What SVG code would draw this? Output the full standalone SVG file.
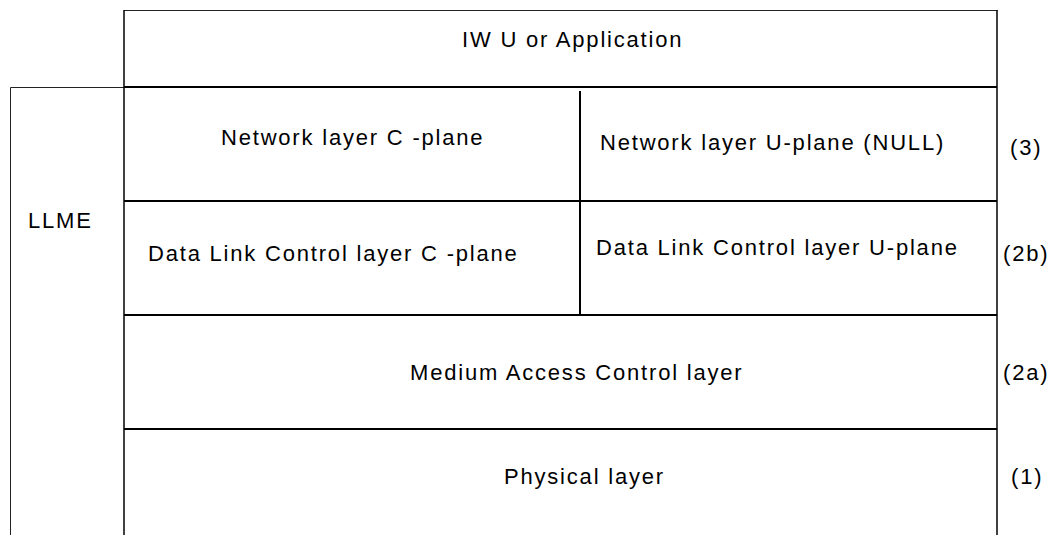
<svg xmlns="http://www.w3.org/2000/svg" width="1060" height="535" viewBox="0 0 1060 535">
<style>
  text { font-family: "Liberation Sans", Arial, sans-serif; font-size: 22px; letter-spacing: 1.8px; fill: #000; }
  .h { stroke: #000; stroke-width: 2; fill: none; }
  .v { stroke: #000; stroke-width: 1.5; fill: none; }
  .thin { stroke: #222; stroke-width: 1; fill: none; }
</style>
<rect width="1060" height="535" fill="#fff"/>
<g id="llme">
  <path class="thin" d="M10.5,535 V87.5 H124"/>
  <text x="28" y="228">LLME</text>
</g>
<g id="iwu">
  <path class="thin" d="M124,10.5 H997.5"/>
  <text x="462" y="47">IW U or Application</text>
</g>
<g id="frame">
  <line class="v" x1="124" y1="10" x2="124" y2="535"/>
  <line class="v" x1="997" y1="10" x2="997" y2="535"/>
  <line class="h" x1="124" y1="87" x2="997" y2="87"/>
  <line class="h" x1="124" y1="201" x2="997" y2="201"/>
  <line class="h" x1="124" y1="315" x2="997" y2="315"/>
  <line class="h" x1="124" y1="429" x2="997" y2="429"/>
  <line class="h" x1="580" y1="91" x2="580" y2="315"/>
</g>
<g id="net-c"><text x="221" y="145">Network layer C -plane</text></g>
<g id="net-u"><text x="600" y="150">Network layer U-plane (NULL)</text></g>
<g id="dlc-c"><text x="148" y="261">Data Link Control layer C -plane</text></g>
<g id="dlc-u"><text x="596" y="255">Data Link Control layer U-plane</text></g>
<g id="mac"><text x="410" y="380">Medium  Access Control layer</text></g>
<g id="phy"><text x="504" y="484">Physical layer</text></g>
<g id="labels">
  <text x="1010" y="155">(3)</text>
  <text x="1003" y="261">(2b)</text>
  <text x="1003" y="380">(2a)</text>
  <text x="1011" y="484">(1)</text>
</g>
</svg>
